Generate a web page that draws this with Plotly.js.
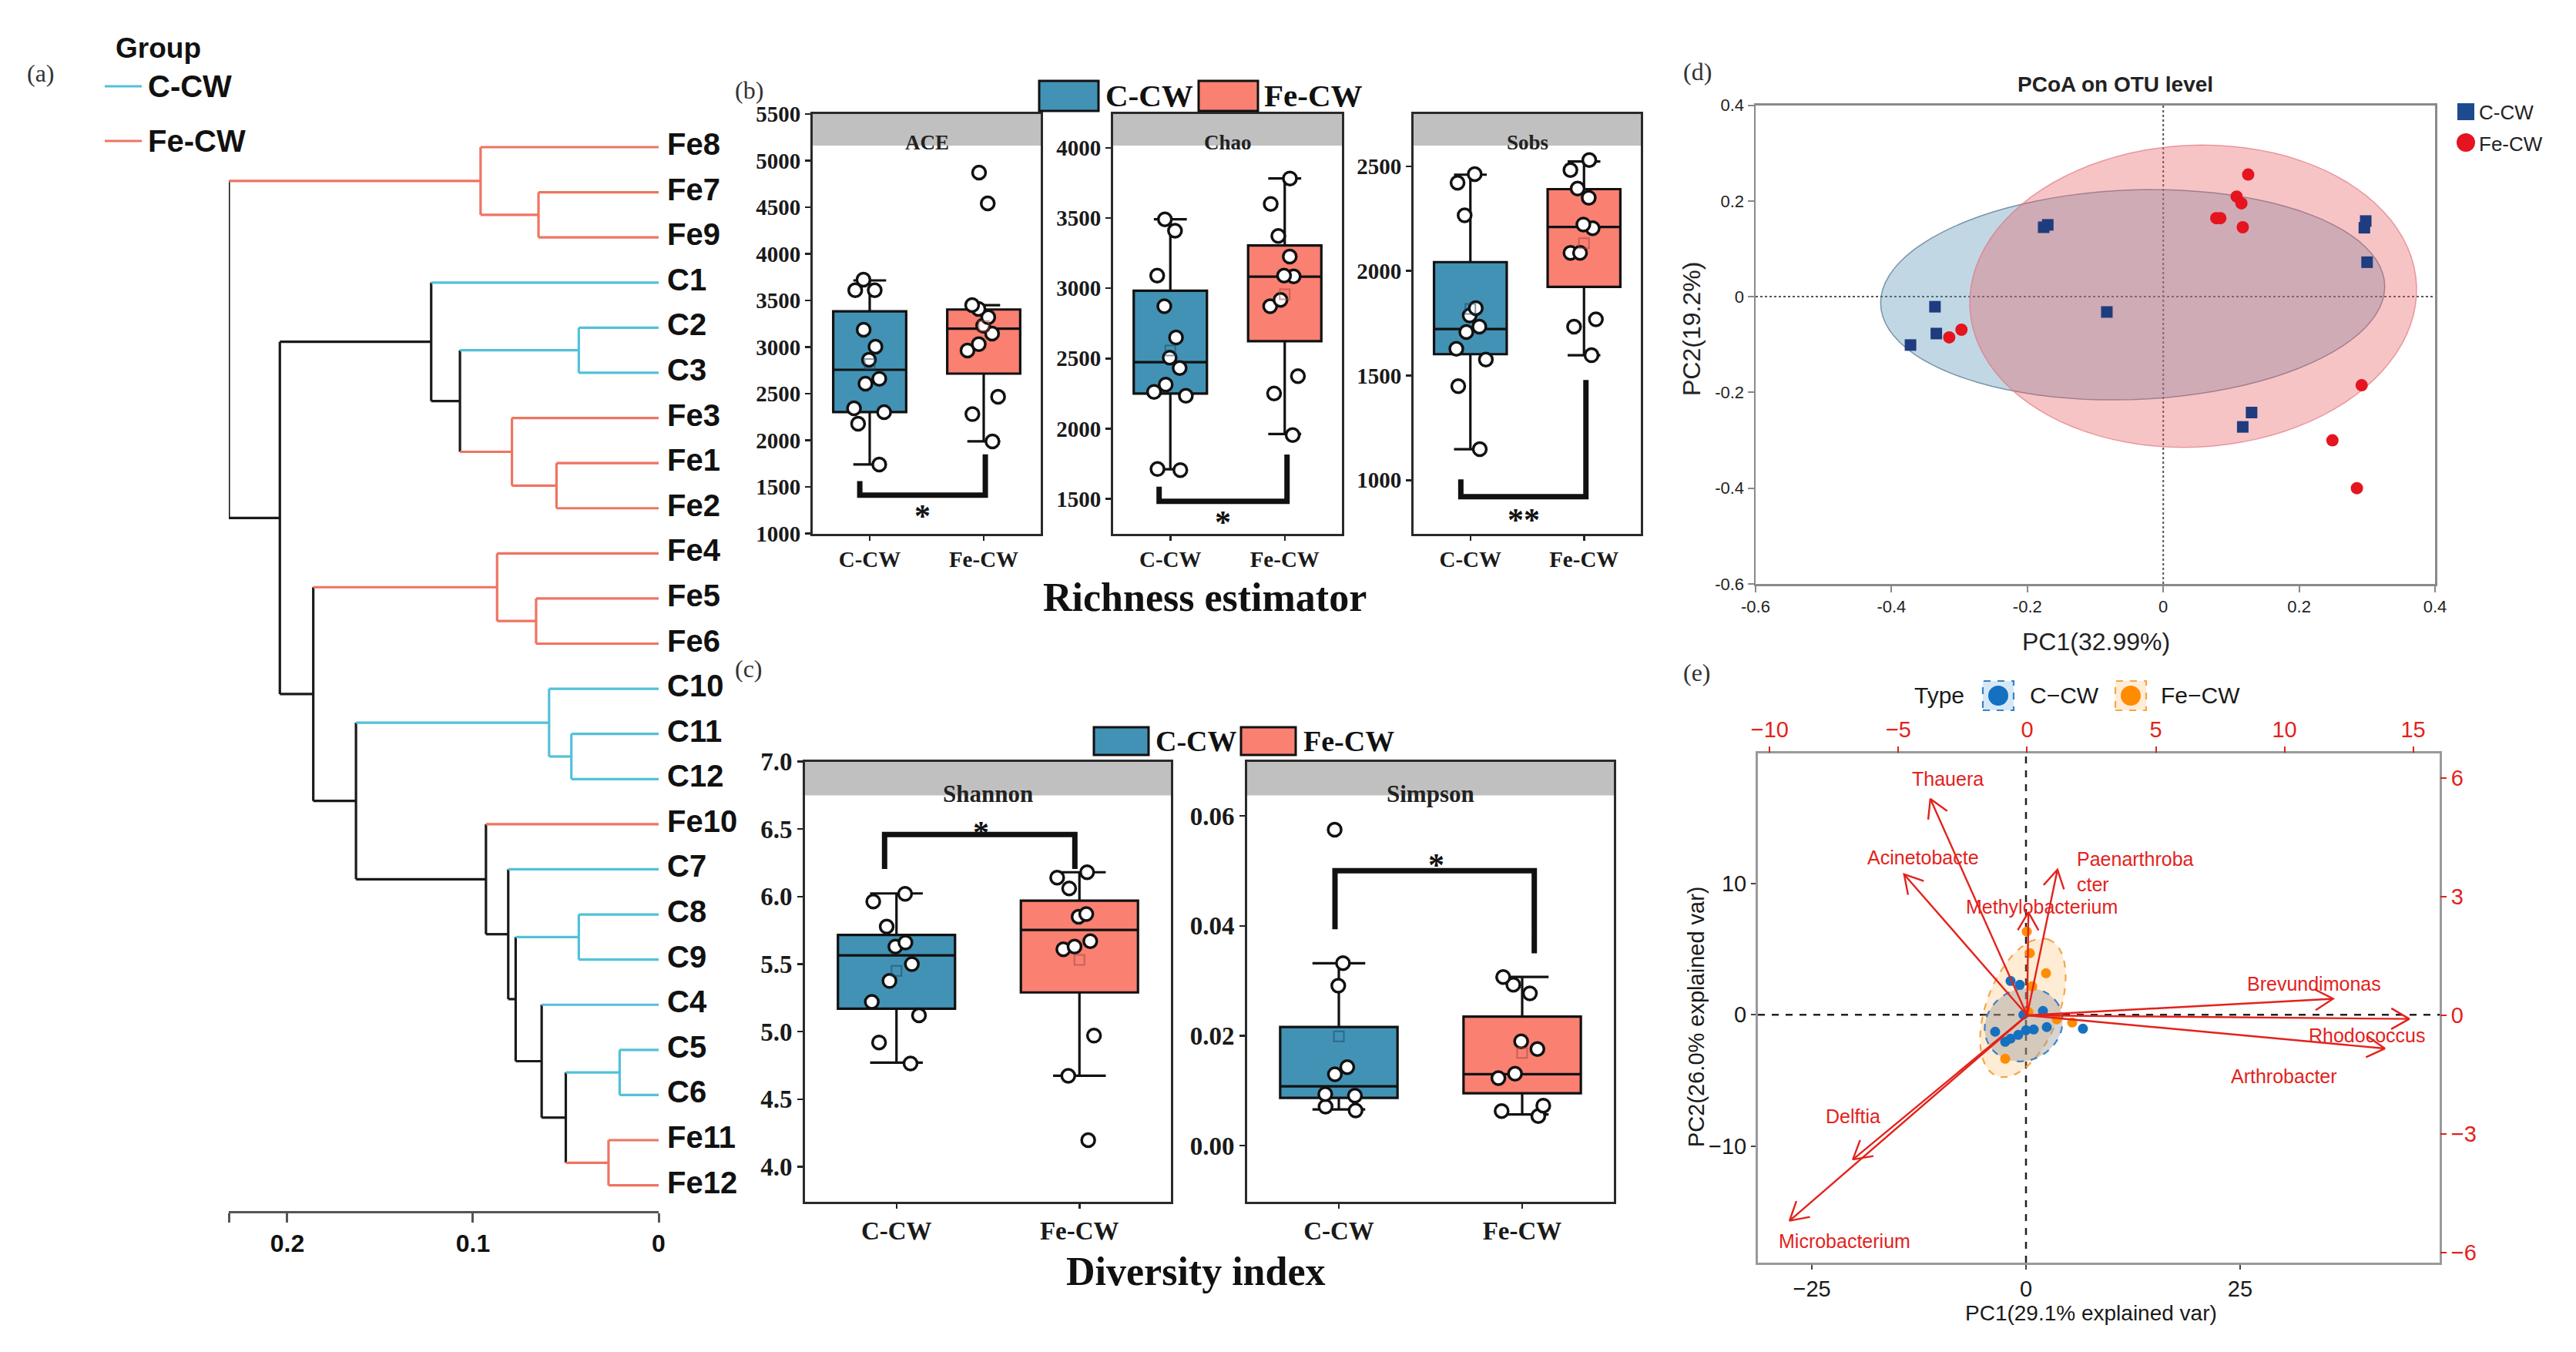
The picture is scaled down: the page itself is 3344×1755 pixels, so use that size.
<!DOCTYPE html>
<html><head><meta charset="utf-8">
<script src="https://cdn.plot.ly/plotly-3.0.1.min.js"></script>
<style>html,body{margin:0;padding:0;background:#fff;} #chart{width:3344px;height:1755px;}</style>
</head><body><div id="chart"></div>
<script>
// ---------------- DATA ----------------
// (a) hierarchical clustering
const leaves = ['Fe8','Fe7','Fe9','C1','C2','C3','Fe3','Fe1','Fe2','Fe4','Fe5','Fe6','C10','C11','C12','Fe10','C7','C8','C9','C4','C5','C6','Fe11','Fe12'];
const mergeLeft  = ['Fe7','Fe8','C2','Fe1','Fe3','n3','C1','Fe5','Fe4','C11','C10','C8','C5','Fe11','n13','C4','n12','C7','Fe10','n11','n9','n7','n2'];
const mergeRight = ['Fe9','n1','C3','Fe2','n4','n5','n6','Fe6','n8','C12','n10','C9','C6','Fe12','n14','n15','n16','n17','n18','n19','n20','n21','n22'];
const mergeHeight = [0.0647,0.0959,0.043,0.055,0.079,0.107,0.1225,0.066,0.087,0.047,0.059,0.043,0.021,0.027,0.050,0.063,0.077,0.081,0.093,0.163,0.186,0.204,0.2315];
const dendroTicks = [0.2315,0.2,0.1,0];
const dendroTickText = ['','0.2','0.1','0'];

// (b) richness estimators (box statistics + sample points)
const groups = ['C-CW','Fe-CW'];
const aceC  = [3723,3610,3610,3186,3004,2864,2660,2607,2343,2302,2178,1740];
const aceFe = [4872,4541,3450,3410,3320,3230,3144,3031,2963,2467,2280,1988];
const aceStats = {q1:[2302,2715], median:[2756,3197], q3:[3384,3403], lf:[1740,1988], uf:[3715,3450]};
const chaoC  = [3491,3410,3090,2872,2649,2505,2431,2313,2262,2234,1712,1705];
const chaoFe = [3782,3601,3373,3226,3090,3085,2917,2872,2374,2250,1954];
const chaoStats = {q1:[2250,2623], median:[2473,3082], q3:[2982,3305], lf:[1710,1962], uf:[3491,3782]};
const sobsC  = [2463,2421,2266,1822,1787,1734,1708,1628,1576,1449,1148];
const sobsFe = [2530,2482,2394,2350,2222,2204,2086,2086,1769,1734,1597];
const sobsStats = {q1:[1602,1924], median:[1722,2210], q3:[2042,2391], lf:[1148,1597], uf:[2460,2523]};
// (c) diversity indices
const shanC  = [6.02,5.963,5.778,5.659,5.63,5.50,5.375,5.22,5.12,4.92,4.764];
const shanFe = [6.18,6.14,6.06,5.87,5.85,5.67,5.63,5.61,4.97,4.673,4.196];
const shanStats = {q1:[5.17,5.29], median:[5.565,5.753], q3:[5.716,5.97], lf:[4.77,4.673], uf:[6.023,6.18]};
const simpC  = [0.0575,0.0332,0.0291,0.0143,0.0130,0.0094,0.0091,0.0071,0.0064];
const simpFe = [0.0307,0.0293,0.0277,0.0190,0.0176,0.0131,0.0123,0.0073,0.0063,0.0054];
const simpStats = {q1:[0.00871,0.00955], median:[0.0108,0.0130], q3:[0.0216,0.0235], lf:[0.0066,0.0057], uf:[0.0332,0.0307]};
// significance brackets
const sigACE  = {x:[-0.087,-0.087,1.014,1.014], y:[1562,1412,1412,1850], sx:0.46, sy:1266, t:'*'};
const sigChao = {x:[-0.098,-0.098,1.02,1.02], y:[1587,1482,1482,1815], sx:0.46, sy:1390, t:'*'};
const sigSobs = {x:[-0.084,-0.084,1.017,1.017], y:[1004,921,921,1479], sx:0.47, sy:845, t:'**'};
const sigShan = {x:[-0.065,-0.065,0.975,0.975], y:[6.204,6.46,6.46,6.204], sx:0.46, sy:6.53, t:'*'};
const sigSimp = {x:[-0.021,-0.021,1.066,1.066], y:[0.03937,0.05003,0.05003,0.035], sx:0.53, sy:0.0524, t:'*'};

// (d) PCoA
const pcoaCx = [-0.170,-0.176,0.298,0.296,0.300,-0.336,-0.334,-0.372,-0.083,0.130,0.117];
const pcoaCy = [0.150,0.145,0.158,0.144,0.072,-0.021,-0.077,-0.101,-0.032,-0.242,-0.272];
const pcoaFx = [0.125,0.108,0.115,0.078,0.084,0.117,-0.297,-0.315,0.292,0.249,0.285];
const pcoaFy = [0.255,0.209,0.195,0.164,0.164,0.145,-0.069,-0.085,-0.185,-0.300,-0.400];
// ellipses: centre, two conjugate semi-axis vectors
const ellC = {cx:-0.045, cy:0.004, ux:0.371, uy:0.017, vx:0.0, vy:0.219};
const ellF = {cx:0.044, cy:0.001, ux:0.327, uy:-0.02, vx:0.035, vy:0.315};

// (e) PCA biplot
const scoreCx = [-1.80,-0.72,1.98,2.43,0.90,0.0,-0.90,-1.80,-2.43,-3.60,6.65,-0.3];
const scoreCy = [2.58,2.29,0.29,-0.94,-1.12,-1.18,-1.53,-1.82,-2.06,-1.29,-1.06,0.0];
const scoreFx = [0.09,0.45,2.34,0.72,-2.43,5.4,3.6,0.3];
const scoreFy = [6.35,4.70,3.17,2.17,-3.35,-0.59,-0.35,0.2];
const ellBiC = {cx:-0.27, cy:-0.76, ux:4.05, uy:1.53, vx:-2.07, vy:2.34};
const ellBiF = {cx:-0.36, cy:0.53, ux:3.05, uy:5.19, vx:-3.95, vy:0.99};
const taxa = ['Thauera','Acinetobacte','Paenarthroba<br>cter','Methylobacterium','Brevundimonas','Rhodococcus','Arthrobacter','Delftia','Microbacterium'];
const loadX = [-3.76,-4.78,1.18,0.05,11.89,14.85,13.9,-6.77,-9.23];
const loadY = [5.48,3.57,3.69,2.61,0.42,-0.09,-0.84,-3.65,-5.2];
const labX  = [-3.07,-4.03,1.87,0.57,11.16,13.2,9.98,-6.77,-7.1];
const labY  = [5.98,3.99,3.63,2.75,0.79,-0.51,-1.55,-2.56,-5.71];
const labAnchor = ['center','center','left','center','center','center','center','center','center'];

// ---------------- HELPERS ----------------
const W = 3344, H = 1755;
const dx = (a,b) => [a/W, b/W];
const dy = (a,b) => [1-b/H, 1-a/H];
const px = v => v/W, py = v => 1-v/H;
const SERIF = 'Liberation Serif', SANS = 'Liberation Sans';
const BLUE = '#4292B5', SALMON = '#FA8072';
const CYAN = '#52C1D8', REDL = '#EE7462';
const mean = a => a.reduce((s,v)=>s+v,0)/a.length;

const traces = [];
const shapes = [];
const annotations = [];
const layout = {width:W, height:H, margin:{l:0,r:0,t:0,b:0}, paper_bgcolor:'#fff', plot_bgcolor:'rgba(0,0,0,0)',
  showlegend:false, font:{family:SANS, color:'#111'}, boxmode:'overlay'};

function ann(text, x, y, o){ annotations.push(Object.assign({text, x, y, xref:'paper', yref:'paper', showarrow:false, xanchor:'center', yanchor:'middle'}, o||{})); }

// ---------------- (a) DENDROGRAM ----------------
const info = {};
leaves.forEach((n,i)=>{ info[n] = {y:i, h:0, g: n.startsWith('Fe') ? 'Fe' : 'C'}; });
const seg = {C:{x:[],y:[]}, Fe:{x:[],y:[]}, mix:{x:[],y:[]}};
function addSeg(g,x0,y0,x1,y1){ seg[g].x.push(x0,x1,null); seg[g].y.push(y0,y1,null); }
mergeHeight.forEach((h,k)=>{
  const a = info[mergeLeft[k]], b = info[mergeRight[k]];
  const g = (a.g===b.g) ? a.g : 'mix';
  info['n'+(k+1)] = {y:(a.y+b.y)/2, h:h, g:g};
  addSeg(a.g, a.h, a.y, h, a.y);
  addSeg(b.g, b.h, b.y, h, b.y);
  addSeg(g, h, a.y, h, b.y);
});
const segCol = {mix:'#1a1a1a', C:CYAN, Fe:REDL};
['mix','C','Fe'].forEach(g=>{
  traces.push({type:'scatter', mode:'lines', x:seg[g].x, y:seg[g].y, xaxis:'x', yaxis:'y',
    line:{color:segCol[g], width:3.2}, hoverinfo:'skip', connectgaps:false});
});
traces.push({type:'scatter', mode:'text', x:leaves.map(()=>0), y:leaves.map((_,i)=>i), text:leaves.map(n=>' '+n),
  textposition:'middle right', textfont:{family:SANS, size:40, weight:'bold', color:'#111'}, cliponaxis:false,
  xaxis:'x', yaxis:'y', hoverinfo:'skip'});
layout.xaxis = {domain:dx(297,855), range:[0.2315,0], anchor:'y', showline:true, linecolor:'#555', linewidth:3,
  ticks:'outside', ticklen:12, tickwidth:3, tickcolor:'#555', tickvals:dendroTicks, ticktext:dendroTickText,
  tickfont:{family:SANS, size:32, weight:'bold', color:'#111'}, zeroline:false, showgrid:false};
layout.yaxis = {domain:dy(150,1572), range:[23.57,-0.70], anchor:'x', visible:false};
ann('(a)', px(53), py(95), {font:{family:SERIF, size:32, color:'#333'}});
ann('Group', px(148), py(63), {xanchor:'left', font:{family:SANS, size:37, weight:'bold', color:'#111'}});
shapes.push({type:'line', xref:'paper', yref:'paper', x0:px(136), x1:px(184), y0:py(112), y1:py(112), line:{color:CYAN, width:3}});
shapes.push({type:'line', xref:'paper', yref:'paper', x0:px(136), x1:px(184), y0:py(183), y1:py(183), line:{color:REDL, width:3}});
ann('C-CW', px(190), py(112), {xanchor:'left', font:{family:SANS, size:40, weight:'bold', color:'#111'}});
ann('Fe-CW', px(190), py(183), {xanchor:'left', font:{family:SANS, size:40, weight:'bold', color:'#111'}});

// ---------------- (b)(c) BOX PANELS ----------------
function boxPanel(n, xdom, ydom, yrange, dtick, fmt, tfs, xfs, stripPx, stripLabel, stripFs, dataC, dataFe, st, sig){
  const xa = 'x'+n, ya = 'y'+n;
  [[0,dataC,BLUE],[1,dataFe,SALMON]].forEach(([pos,vals,col])=>{
    traces.push({type:'box', xaxis:xa, yaxis:ya, x:[pos], q1:[st.q1[pos]], median:[st.median[pos]], q3:[st.q3[pos]],
      lowerfence:[st.lf[pos]], upperfence:[st.uf[pos]], width:0.64, whiskerwidth:0.45,
      fillcolor:col, line:{color:'#111', width:3.2}, boxpoints:false, hoverinfo:'skip'});
    traces.push({type:'scatter', xaxis:xa, yaxis:ya, x:[pos], y:[mean(vals)], mode:'markers',
      marker:{symbol:'square-open', size:13, color: pos===0 ? 'rgba(30,70,100,0.55)' : 'rgba(160,70,60,0.55)', line:{width:2}}, hoverinfo:'skip'});
    traces.push({type:'box', xaxis:xa, yaxis:ya, x0:pos, y:vals, width:0.64, boxpoints:'all', jitter:0.55, pointpos:0,
      fillcolor:'rgba(0,0,0,0)', line:{width:0, color:'rgba(0,0,0,0)'},
      marker:{color:'#ffffff', size:17, line:{color:'#111', width:3.5}}, hoverinfo:'skip'});
  });
  traces.push({type:'scatter', mode:'lines', xaxis:xa, yaxis:ya, x:sig.x, y:sig.y, line:{color:'#111', width:7}, hoverinfo:'skip', cliponaxis:false});
  annotations.push({text:sig.t, x:sig.sx, y:sig.sy, xref:xa, yref:ya, showarrow:false, yshift:-10,
    font:{family:SERIF, size:42, weight:'bold', color:'#111'}});
  const yfont = {family:SERIF, size:tfs, weight:'bold', color:'#1a1a1a'};
  const xfont = {family:SERIF, size:xfs, weight:'bold', color:'#1a1a1a'};
  layout['xaxis'+n] = {domain:xdom, anchor:ya, range:[-0.5,1.5], tickvals:[0,1], ticktext:groups, ticks:'outside', ticklen:6, tickwidth:2.5,
    tickcolor:'#222', showline:true, mirror:true, linecolor:'#2a2a2a', linewidth:3, zeroline:false, showgrid:false, tickfont:xfont};
  layout['yaxis'+n] = {domain:ydom, anchor:xa, range:yrange, dtick:dtick, tick0:0, tickformat:fmt, ticks:'outside', ticklen:7, tickwidth:2.5,
    tickcolor:'#222', showline:true, mirror:true, linecolor:'#2a2a2a', linewidth:3, zeroline:false, showgrid:false, tickfont:yfont};
  const hpx = (1-ydom[0])*H - (1-ydom[1])*H;
  const frac = stripPx / hpx;
  shapes.push({type:'rect', xref:xa+' domain', yref:ya+' domain', x0:0, x1:1, y0:1-frac, y1:1, fillcolor:'#C0C0C0', line:{width:0}, layer:'below'});
  annotations.push({text:stripLabel, xref:xa+' domain', yref:ya+' domain', x:0.5, y:1-frac/2, showarrow:false,
    font:{family:SERIF, size:stripFs, weight:'bold', color:'#222'}});
}
boxPanel(2, dx(1055,1351), dy(148,692.5), [1000,5500], 500, 'd', 29, 29, 41, 'ACE', 27, aceC, aceFe, aceStats, sigACE);
boxPanel(3, dx(1445,1742), dy(148,692.5), [1253,4241], 500, 'd', 29, 29, 41, 'Chao', 27, chaoC, chaoFe, chaoStats, sigChao);
boxPanel(4, dx(1835,2130), dy(148,692.5), [745,2750], 500, 'd', 29, 29, 41, 'Sobs', 27, sobsC, sobsFe, sobsStats, sigSobs);
boxPanel(5, dx(1045,1520), dy(988.5,1560), [3.74,7.0], 0.5, '.1f', 33, 33, 44, 'Shannon', 31, shanC, shanFe, shanStats, sigShan);
boxPanel(6, dx(1619,2095), dy(988.5,1560), [-0.0102,0.0699], 0.02, '.2f', 33, 33, 44, 'Simpson', 31, simpC, simpFe, simpStats, sigSimp);

function boxLegend(xb, xr, y0, y1, xtC, xtF, fs){
  shapes.push({type:'rect', xref:'paper', yref:'paper', x0:px(xb[0]), x1:px(xb[1]), y0:py(y1), y1:py(y0), fillcolor:BLUE, line:{color:'#111', width:3}});
  shapes.push({type:'rect', xref:'paper', yref:'paper', x0:px(xr[0]), x1:px(xr[1]), y0:py(y1), y1:py(y0), fillcolor:SALMON, line:{color:'#111', width:3}});
  const yc = py((y0+y1)/2);
  ann('C-CW', px(xtC), yc, {xanchor:'left', font:{family:SERIF, size:fs, weight:'bold', color:'#111'}});
  ann('Fe-CW', px(xtF), yc, {xanchor:'left', font:{family:SERIF, size:fs, weight:'bold', color:'#111'}});
}
boxLegend([1349,1426],[1556,1633],105,144,1433,1639,41);
boxLegend([1420,1491],[1611,1682],944,980,1498,1690,38);
ann('Richness estimator', px(1564), py(775), {font:{family:SERIF, size:52, weight:'bold', color:'#111'}});
ann('Diversity index', px(1552), py(1650), {font:{family:SERIF, size:52, weight:'bold', color:'#111'}});
ann('(b)', px(972), py(117), {font:{family:SERIF, size:32, color:'#333'}});
ann('(c)', px(972), py(868), {font:{family:SERIF, size:32, color:'#333'}});

// ---------------- ellipse helper ----------------
function ellPath(e){
  let p = '';
  for (let k=0;k<=96;k++){
    const t = 2*Math.PI*k/96;
    const x = e.cx + e.ux*Math.cos(t) + e.vx*Math.sin(t);
    const y = e.cy + e.uy*Math.cos(t) + e.vy*Math.sin(t);
    p += (k===0?'M ':' L ') + x.toFixed(5) + ',' + y.toFixed(5);
  }
  return p + ' Z';
}

// ---------------- (d) PCoA ----------------
shapes.push({type:'path', xref:'x7', yref:'y7', path:ellPath(ellC), fillcolor:'rgba(83,146,180,0.36)', line:{color:'rgba(80,110,140,0.7)', width:1.5}, layer:'below'});
shapes.push({type:'path', xref:'x7', yref:'y7', path:ellPath(ellF), fillcolor:'rgba(234,91,97,0.36)', line:{color:'rgba(225,120,130,0.7)', width:1.5}, layer:'below'});
shapes.push({type:'line', xref:'x7', yref:'y7 domain', x0:0, x1:0, y0:0, y1:1, line:{color:'#555', width:2, dash:'dot'}, layer:'below'});
shapes.push({type:'line', xref:'x7 domain', yref:'y7', x0:0, x1:1, y0:0, y1:0, line:{color:'#555', width:2, dash:'dot'}, layer:'below'});
traces.push({type:'scatter', mode:'markers', x:pcoaCx, y:pcoaCy, xaxis:'x7', yaxis:'y7', marker:{symbol:'square', size:15, color:'#1E3C7E'}, hoverinfo:'skip'});
traces.push({type:'scatter', mode:'markers', x:pcoaFx, y:pcoaFy, xaxis:'x7', yaxis:'y7', marker:{symbol:'circle', size:16, color:'#E5141F'}, hoverinfo:'skip'});
const dTicks = [-0.6,-0.4,-0.2,0,0.2,0.4];
const dTickText = ['-0.6','-0.4','-0.2','0','0.2','0.4'];
const dAxis = {showline:true, mirror:true, linecolor:'#8a8a8a', linewidth:2.5, ticks:'outside', ticklen:8, tickwidth:2, tickcolor:'#888',
  zeroline:false, showgrid:false, tickfont:{family:SANS, size:22, color:'#222'}};
layout.xaxis7 = Object.assign({}, dAxis, {domain:dx(2279,3161), anchor:'y7', range:[-0.6,0.4], tickvals:dTicks, ticktext:dTickText});
layout.yaxis7 = Object.assign({}, dAxis, {domain:dy(136.5,758), anchor:'x7', range:[-0.6,0.4], tickvals:dTicks, ticktext:dTickText});
ann('(d)', px(2203), py(93), {font:{family:SERIF, size:32, color:'#333'}});
ann('PCoA on OTU level', px(2746), py(110), {font:{family:SANS, size:28, weight:'bold', color:'#222'}});
ann('PC1(32.99%)', px(2721), py(833), {font:{family:SANS, size:32, color:'#222'}});
ann('PC2(19.2%)', px(2196), py(427), {textangle:-90, font:{family:SANS, size:32, color:'#222'}});
shapes.push({type:'rect', xref:'paper', yref:'paper', x0:px(3190), x1:px(3212), y0:py(156), y1:py(134), fillcolor:'#1E4A8E', line:{width:0}});
shapes.push({type:'circle', xref:'paper', yref:'paper', x0:px(3189), x1:px(3213), y0:py(197), y1:py(173), fillcolor:'#E5141F', line:{width:0}});
ann('C-CW', px(3216), py(146), {xanchor:'left', font:{family:SANS, size:26, color:'#222'}});
ann('Fe-CW', px(3216), py(187), {xanchor:'left', font:{family:SANS, size:26, color:'#222'}});

// ---------------- (e) BIPLOT ----------------
const ex = [-31.3,48.3], ey = [-18.9,19.93], lx9 = [-10.46,16.03], ly9 = [-6.26,6.63];
const eDom = {x:[2282,3167], y:[978,1639]};
shapes.push({type:'path', xref:'x8', yref:'y8', path:ellPath(ellBiF), fillcolor:'rgba(255,170,60,0.22)', line:{color:'#F5A54A', width:2.2, dash:'dash'}, layer:'below'});
shapes.push({type:'path', xref:'x8', yref:'y8', path:ellPath(ellBiC), fillcolor:'rgba(150,150,150,0.40)', line:{color:'#3C82C4', width:2.2, dash:'dash'}, layer:'below'});
shapes.push({type:'line', xref:'x8', yref:'y8 domain', x0:0, x1:0, y0:0, y1:1, line:{color:'#222', width:2.5, dash:'dash'}, layer:'below'});
shapes.push({type:'line', xref:'x8 domain', yref:'y8', x0:0, x1:1, y0:0, y1:0, line:{color:'#222', width:2.5, dash:'dash'}, layer:'below'});
traces.push({type:'scatter', mode:'markers', x:scoreFx, y:scoreFy, xaxis:'x8', yaxis:'y8', marker:{size:13, color:'#FF8C00'}, hoverinfo:'skip'});
traces.push({type:'scatter', mode:'markers', x:scoreCx, y:scoreCy, xaxis:'x8', yaxis:'y8', marker:{size:13, color:'#1570C0'}, hoverinfo:'skip'});
// arrows on loading axes
const sxl = (eDom.x[1]-eDom.x[0])/(lx9[1]-lx9[0]), syl = (eDom.y[1]-eDom.y[0])/(ly9[1]-ly9[0]);
const arrX = [], arrY = [];
const HEAD = 27, ANG = Math.PI/6;
loadX.forEach((lx,i)=>{
  const ly = loadY[i];
  arrX.push(0, lx, null); arrY.push(0, ly, null);
  const qx = lx*sxl, qy = ly*syl, len = Math.hypot(qx,qy), ux = qx/len, uy = qy/len;
  const r1x = ux*Math.cos(ANG)-uy*Math.sin(ANG), r1y = ux*Math.sin(ANG)+uy*Math.cos(ANG);
  const r2x = ux*Math.cos(-ANG)-uy*Math.sin(-ANG), r2y = ux*Math.sin(-ANG)+uy*Math.cos(-ANG);
  arrX.push(lx - r1x*HEAD/sxl, lx, lx - r2x*HEAD/sxl, null);
  arrY.push(ly - r1y*HEAD/syl, ly, ly - r2y*HEAD/syl, null);
});
traces.push({type:'scatter', mode:'lines', x:arrX, y:arrY, xaxis:'x9', yaxis:'y9', line:{color:'#E3221C', width:2.4}, hoverinfo:'skip'});
taxa.forEach((t,i)=>{
  annotations.push({text:t, x:labX[i], y:labY[i], xref:'x9', yref:'y9', showarrow:false, xanchor:labAnchor[i], align:'left',
    font:{family:SANS, size:25, color:'#E3221C'}});
});
const eAxis = {showline:true, mirror:true, linecolor:'#9a9a9a', linewidth:3, ticks:'outside', ticklen:6, tickwidth:2, tickcolor:'#444',
  zeroline:false, showgrid:false, tickfont:{family:SANS, size:29, color:'#1a1a1a'}};
layout.xaxis8 = Object.assign({}, eAxis, {domain:dx(eDom.x[0],eDom.x[1]), anchor:'y8', range:ex, tickvals:[-25,0,25]});
layout.yaxis8 = Object.assign({}, eAxis, {domain:dy(eDom.y[0],eDom.y[1]), anchor:'x8', range:ey, tickvals:[-10,0,10]});
const rAxis = {showline:false, ticks:'outside', ticklen:8, tickwidth:2, tickcolor:'#E3221C', zeroline:false, showgrid:false,
  tickfont:{family:SANS, size:29, color:'#E3221C'}};
layout.xaxis9 = Object.assign({}, rAxis, {overlaying:'x8', side:'top', anchor:'y8', range:lx9, tickvals:[-10,-5,0,5,10,15]});
layout.yaxis9 = Object.assign({}, rAxis, {overlaying:'y8', side:'right', anchor:'x8', range:ly9, tickvals:[-6,-3,0,3,6]});
ann('(e)', px(2203), py(873), {font:{family:SERIF, size:32, color:'#333'}});
ann('PC1(29.1% explained var)', px(2714), py(1704), {font:{family:SANS, size:28, color:'#1a1a1a'}});
ann('PC2(26.0% explained var)', px(2202), py(1320), {textangle:-90, font:{family:SANS, size:29, color:'#1a1a1a'}});
// legend of (e)
ann('Type', px(2517), py(903), {font:{family:SANS, size:30, color:'#1a1a1a'}});
shapes.push({type:'rect', xref:'paper', yref:'paper', x0:px(2574), x1:px(2614), y0:py(922), y1:py(884), fillcolor:'rgba(120,180,230,0.3)', line:{color:'#3C82C4', width:2.2, dash:'dash'}});
shapes.push({type:'circle', xref:'paper', yref:'paper', x0:px(2581), x1:px(2607), y0:py(916), y1:py(890), fillcolor:'#1570C0', line:{width:0}});
ann('C\u2212CW', px(2633), py(903), {xanchor:'left', font:{family:SANS, size:30, color:'#1a1a1a'}});
shapes.push({type:'rect', xref:'paper', yref:'paper', x0:px(2746), x1:px(2786), y0:py(922), y1:py(884), fillcolor:'rgba(255,200,140,0.35)', line:{color:'#F5A54A', width:2.2, dash:'dash'}});
shapes.push({type:'circle', xref:'paper', yref:'paper', x0:px(2753), x1:px(2779), y0:py(916), y1:py(890), fillcolor:'#FF8C00', line:{width:0}});
ann('Fe\u2212CW', px(2803), py(903), {xanchor:'left', font:{family:SANS, size:30, color:'#1a1a1a'}});

layout.shapes = shapes;
layout.annotations = annotations;
Plotly.newPlot('chart', traces, layout, {staticPlot:true, displayModeBar:false});
</script></body></html>
